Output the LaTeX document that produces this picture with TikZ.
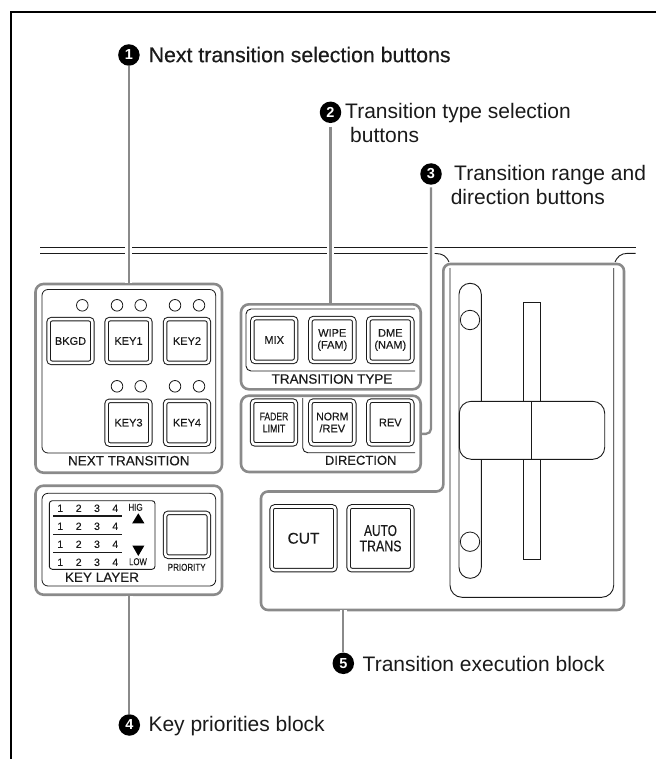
\documentclass[tikz,border=0pt]{standalone}
\usepackage{graphicx}
\usepackage{fontspec}
\setmainfont{Liberation Sans}
\newfontfamily\heavyfont[FakeBold=0.4]{Liberation Sans}
\newfontfamily\semifont[FakeBold=0.2]{Liberation Sans}
\definecolor{blockgray}{HTML}{8A8A8A}
\definecolor{ink}{HTML}{1A1A1A}
\newcommand{\fs}[2]{\fontsize{#1}{#2}\selectfont}
\newcommand{\nrw}[2]{\scalebox{#1}[1]{#2}}
\tikzset{
  block/.style={draw=blockgray,line width=2.6pt,rounded corners=8pt,inner sep=0pt},
  inframe/.style={draw=ink,line width=.8pt,rounded corners=6pt},
  thin line/.style={draw=ink,line width=.9pt},
  lead/.style={draw=blockgray,line width=2.3pt,preaction={draw=white,line width=7pt}},
  btn/.style={draw=ink,line width=1pt,double=white,double distance=2.6pt,rounded corners=3.2pt,
    minimum width=43.8pt,minimum height=43.8pt,inner sep=0pt,align=center,text=ink,font=\fs{11}{12}\semifont},
  bigbtn/.style={btn,minimum width=63.7pt,minimum height=63.7pt,font=\fs{15.5}{15.5}\semifont},
  led/.style={circle,draw=ink,line width=.8pt,minimum size=11.6pt,inner sep=0pt},
  bullet/.style={circle,fill=black,text=white,minimum size=21.5pt,inner sep=0pt,font=\fs{14.5}{14.5}\bfseries},
  callout/.style={inner sep=0pt,anchor=base west,text=ink,font=\fs{21}{24}},
  paneltext/.style={inner sep=0pt,text=ink,font=\fs{13.5}{14}\semifont},
  smalltext/.style={inner sep=0pt,text=ink,font=\fs{10}{11}\semifont},
  fadercircle/.style={circle,draw=ink,line width=.8pt,fill=white,minimum size=19.4pt,inner sep=0pt}
}
\begin{document}
\begin{tikzpicture}[x=1pt,y=-1pt]
\useasboundingbox (0,0) rectangle (656,759);
% page frame
\draw[black,line width=2pt] (656,12) -- (11,12) -- (11,759);
% panel edge
\draw[thin line] (40,247.3) -- (635.7,247.3);
\draw[thin line] (40,253.5) -- (436,253.5) .. controls (443,253.5) and (447,257) .. (449,262);
\draw[thin line] (635.7,253.4) -- (627,253.4) .. controls (621,253.4) and (617,257) .. (615,262);
% blocks
\node[block,minimum width=186.5pt,minimum height=188.7pt] (nt) at (128.75,378.35) {};
\node[block,minimum width=179.7pt,minimum height=85pt] (tt) at (330.85,346.8) {};
\node[block,minimum width=179.7pt,minimum height=76.3pt] (dir) at (330.85,433.85) {};
\node[block,minimum width=186.5pt,minimum height=109pt] (kl) at (128.75,540.2) {};
\coordinate (exe) at (343.3,610);
\draw[draw=blockgray,line width=2.6pt,rounded corners=7pt]
  (261,540) -- (261,491.5) -- (443.3,491.5) -- (443.3,264) -- (624,264) -- (624,610) -- (261,610) -- cycle;
% NEXT TRANSITION
\draw[inframe] (42,289.5) rectangle (215.7,453);
\node[led] (l0) at (82.3,305.3) {};
\node[led] (l1) at (117,305.3) {};
\node[led] (l2) at (140.7,305.3) {};
\node[led] (l3) at (175,305.3) {};
\node[led] (l4) at (199,305.3) {};
\node[led] (l5) at (117,386.3) {};
\node[led] (l6) at (140.7,386.3) {};
\node[led] (l7) at (175,386.3) {};
\node[led] (l8) at (199,386.3) {};
\node[btn] (bkgd) at (70.5,341) {BKGD};
\node[btn] (key1) at (128.5,341) {KEY1};
\node[btn] (key2) at (187,341) {KEY2};
\node[btn] (key3) at (128.5,422.7) {KEY3};
\node[btn] (key4) at (187,422.7) {KEY4};
\node[paneltext] (ntlabel) at (128.8,460.7) {NEXT TRANSITION};
% TRANSITION TYPE
\draw[thin line,rounded corners=5pt] (415,309) -- (246,309) -- (246,371) -- (415,371);
\node[btn] (mix) at (274.2,340) {MIX};
\node[btn] (wipe) at (332.3,340) {WIPE\\(FAM)};
\node[btn] (dme) at (390.3,340) {DME\\(NAM)};
\node[paneltext] (ttlabel) at (332,379) {TRANSITION TYPE};
% DIRECTION
\draw[thin line,rounded corners=5pt] (302.7,398) -- (302.7,452.7) -- (415,452.7);
\node[btn] (fader) at (274,422.5) {\nrw{.78}{FADER}\\\nrw{.8}{LIMIT}};
\node[btn] (norm) at (332.3,422.5) {\nrw{.96}{NORM}\\/REV};
\node[btn] (rev) at (390.3,422.5) {REV};
\node[paneltext,font=\fs{13}{14}\semifont] (dirlabel) at (360.7,460.3) {DIRECTION};
% KEY LAYER
\draw[inframe] (42,493.3) rectangle (215.7,586);
\draw[thin line,rounded corners=3pt] (49.3,500.7) rectangle (155,569.3);
\foreach \yy/\nm in {516/a,534.3/b,552.7/c}
  \draw[draw=ink,line width=1.1pt] (53.3,\yy) -- (121.7,\yy);
\foreach \yy/\nm in {508.3/a,526.3/b,544.3/c,562.3/d}
  \foreach \xx/\dg in {60.3/1,78.7/2,97/3,115.3/4}
    \node[smalltext,font=\fs{10.5}{11}\heavyfont] (k\nm\dg) at (\xx,\yy) {\dg};
\node[smalltext] (hig) at (135.5,507.3) {\nrw{.8}{HIG}};
\node[smalltext] (low) at (138,561.7) {\nrw{.78}{LOW}};
\fill[black] (138.3,513.3) -- (144.4,523.3) -- (132.2,523.3) -- cycle;
\fill[black] (132.4,545.7) -- (144.3,545.7) -- (138.3,556) -- cycle;
\node[btn] (prio) at (187,534.8) {};
\node[smalltext] (priolabel) at (186.7,567.3) {\nrw{.8}{PRIORITY}};
\node[paneltext] (kllabel) at (102,577.3) {KEY LAYER};
% execution block
\draw[thin line,rounded corners=12pt] (450,268) -- (450,597.3) -- (613.7,597.3) -- (613.7,268);
\node[bigbtn] (cut) at (303.5,538.3) {CUT};
\node[bigbtn] (auto) at (380.5,538.3) {\nrw{.77}{AUTO}\\\nrw{.8}{TRANS}};
\draw[thin line,rounded corners=11pt] (459,578.3) rectangle (481.3,283.3);
\node[fadercircle] (c1) at (470,320) {};
\node[fadercircle] (c2) at (470,541.7) {};
\draw[thin line] (523.3,302) rectangle (540.3,559.3);
\draw[thin line,fill=white,rounded corners=12pt] (459.3,401.3) rectangle (604.7,459.3);
\draw[draw=ink,line width=.8pt] (531.7,401.3) -- (531.7,459.3);
% callouts
\node[bullet] (b1) at (128.9,55) {1};
\node[bullet] (b2) at (330.5,112.3) {2};
\node[bullet] (b3) at (431,174) {3};
\node[bullet] (b4) at (129.3,725) {4};
\node[bullet] (b5) at (343.3,663.3) {5};
\node[callout,font=\fs{21.3}{24}\heavyfont] (t1) at (148.5,62.2) {Next transition selection buttons};
\node[callout] (t2) at (345,118.7) {Transition type selection};
\node[callout] (t2b) at (350,142.7) {buttons};
\node[callout] (t3) at (454,180.7) {Transition range and};
\node[callout] (t3b) at (450.6,204.3) {direction buttons};
\node[callout] (t4) at (148.3,731.8) {Key priorities block};
\node[callout] (t5) at (362.5,671) {Transition execution block};
% leaders
\draw[lead] (b1.south) -- (b1.south |- nt.north);
\draw[lead,shorten <=3.5pt] (b2.south) -- (b2.south |- tt.north);
\draw[lead,shorten <=2.5pt,rounded corners=5pt] (b3.south) |- (dir.east);
\draw[lead] (kl.south -| b4) -- (b4.north);
\draw[lead] (exe) -- (b5.north);
\end{tikzpicture}
\end{document}
